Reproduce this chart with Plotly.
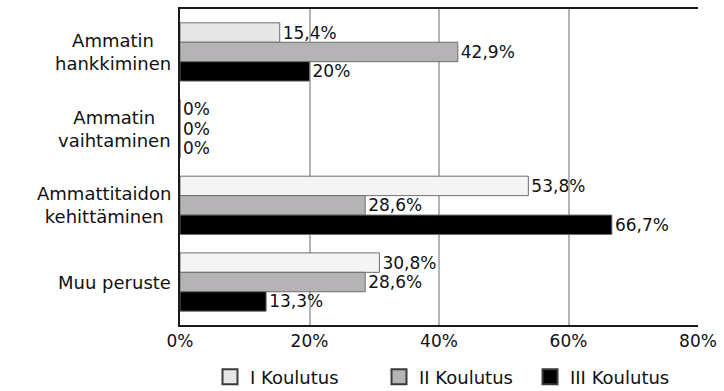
import plotly.graph_objects as go

categories = ["Ammatin<br>hankkiminen", "Ammatin<br>vaihtaminen",
              "Ammattitaidon<br>kehittäminen", "Muu peruste"]
series_names = ["I Koulutus", "II Koulutus", "III Koulutus"]
values_1 = [15.4, 0, 53.8, 30.8]
values_2 = [42.9, 0, 28.6, 28.6]
values_3 = [20, 0, 66.7, 13.3]
x_ticks = [0, 20, 40, 60, 80]

fill_1 = ["#e6e6e6", "#e6e6e6", "#f4f4f4", "#f4f4f4"]
fill_2 = "#b5b3b5"
fill_3 = "#000000"
legend_fill = ["#e6e6e6", "#b5b3b5", "#000000"]

FONT = "DejaVu Sans"
TXT = "#111111"
W, H = 724, 391
L, R, T, B = 180, 21, 7, 66


def pct(v):
    s = f"{v:.1f}".replace(".", ",")
    if s.endswith(",0"):
        s = s[:-2]
    return s + "%"


def font(size=18):
    return dict(family=FONT, size=size, color=TXT)


fig = go.Figure()
legend_ids = ["legend", "legend2", "legend3"]
for name, vals, fill in zip(series_names, [values_1, values_2, values_3],
                            [fill_1, fill_2, fill_3]):
    fig.add_trace(go.Bar(
        name=name, y=categories, x=vals, orientation="h",
        marker=dict(color=fill, line=dict(color="#6e6e6e", width=1)),
        text=[pct(v) for v in vals], textposition="outside",
        textfont=font(17),
        constraintext="none", cliponaxis=False, showlegend=False,
    ))

# legend entries with square swatches
for name, fill, lg in zip(series_names, legend_fill, legend_ids):
    fig.add_trace(go.Scatter(
        name=name, x=[None], y=[None], mode="markers",
        marker=dict(symbol="square", size=15, color=fill,
                    line=dict(color="#3a3a3a", width=2)),
        legend=lg, showlegend=True, hoverinfo="skip",
    ))

# category labels, centered multi-line text right-aligned to the axis
annotations = []
for c in categories:
    annotations.append(dict(
        x=-7 / (W - L - R), xref="paper", y=c, yref="y",
        xanchor="right", yanchor="middle", align="center",
        text=c, showarrow=False, font=font(),
    ))

legend_x = [210, 379, 530]
legends = {}
for lg, lx in zip(legend_ids, legend_x):
    legends[lg] = dict(
        x=lx / W, xref="container", xanchor="left",
        y=1 - 377 / H, yref="container", yanchor="middle",
        orientation="h", bgcolor="rgba(0,0,0,0)", font=font(),
    )

fig.update_layout(
    width=W, height=H,
    margin=dict(l=L, r=R, t=T, b=B),
    paper_bgcolor="white", plot_bgcolor="white",
    barmode="group", bargap=0.24, bargroupgap=0,
    annotations=annotations,
    **legends,
    xaxis=dict(
        range=[0, 80], tickvals=x_ticks, ticktext=[f"{v}%" for v in x_ticks],
        showgrid=True, gridcolor="#b4b4b4", gridwidth=1.5,
        showline=True, linecolor="#1a1a1a", linewidth=2, mirror=True,
        zeroline=False, ticks="", tickfont=font(17),
    ),
    yaxis=dict(
        type="category", range=[3.56, -0.56], showticklabels=False,
        showline=True, linecolor="#1a1a1a", linewidth=2,
        showgrid=False, zeroline=False, ticks="",
    ),
)

fig.write_html("out.html")
